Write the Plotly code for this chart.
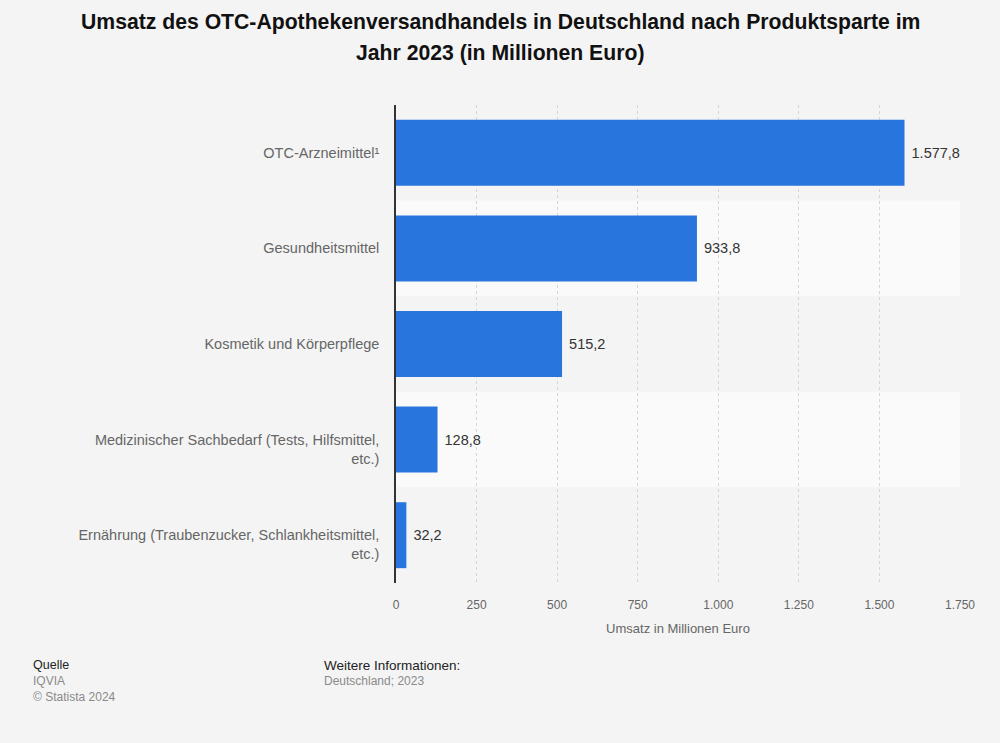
import plotly.graph_objects as go

categories = [
    "OTC-Arzneimittel¹",
    "Gesundheitsmittel",
    "Kosmetik und Körperpflege",
    "Medizinischer Sachbedarf (Tests, Hilfsmittel,<br>etc.)",
    "Ernährung (Traubenzucker, Schlankheitsmittel,<br>etc.)",
]
values = [1577.8, 933.8, 515.2, 128.8, 32.2]
value_labels = ["1.577,8", "933,8", "515,2", "128,8", "32,2"]
tick_vals = [0, 250, 500, 750, 1000, 1250, 1500, 1750]
tick_text = ["0", "250", "500", "750", "1.000", "1.250", "1.500", "1.750"]

FONT = "Liberation Sans, Arial, Helvetica, sans-serif"
W, H = 1000, 743
ML, MR, MT, MB = 396, 40, 105, 160
PW, PH = W - ML - MR, H - MT - MB


def px_x(x):
    return (x - ML) / PW


def px_y(y):
    return (H - MB - y) / PH


# multi-line labels: first line sits at the bar centre (leading blank line)
y_ticktext = [("&nbsp;<br>" + c) if "<br>" in c else c for c in categories]

fig = go.Figure()
fig.add_trace(go.Bar(
    x=values, y=categories, orientation="h",
    marker=dict(color="#2876dd", line=dict(width=0)),
    text=[" " + v for v in value_labels], textposition="outside",
    textfont=dict(color="#333333", size=14.5, family=FONT),
    cliponaxis=False, width=0.69, hoverinfo="skip",
))

shapes = []
for i in range(len(categories)):
    color = "#f4f4f4" if i % 2 == 0 else "#fafafa"
    shapes.append(dict(type="rect", xref="paper", yref="y",
                       x0=0, x1=1, y0=i - 0.5, y1=i + 0.5,
                       fillcolor=color, line=dict(width=0), layer="below"))

fig.update_layout(
    width=W, height=H,
    paper_bgcolor="#f4f4f4", plot_bgcolor="#f4f4f4",
    margin=dict(l=ML, r=MR, t=MT, b=MB),
    font=dict(family=FONT, color="#666666", size=13),
    showlegend=False,
    shapes=shapes,
    xaxis=dict(
        range=[0, 1750], tickvals=tick_vals, ticktext=tick_text,
        showgrid=True, gridcolor="#d6d6d6", griddash="dot", gridwidth=1,
        zeroline=False, showline=False,
        tickfont=dict(size=12, color="#666666"),
        title=dict(text="Umsatz in Millionen Euro", font=dict(size=13, color="#666666"), standoff=12),
        ticks="", ticklabelstandoff=13,
    ),
    yaxis=dict(
        autorange="reversed", showgrid=False, zeroline=False,
        showline=True, linecolor="#333333", linewidth=1.5,
        tickmode="array", tickvals=categories, ticktext=y_ticktext,
        tickfont=dict(size=14.5, color="#666666"),
        ticks="", ticklabelstandoff=12,
    ),
    bargap=0.31,
)

for txt, yy in [("Umsatz des OTC-Apothekenversandhandels in Deutschland nach Produktsparte im", 22),
                ("Jahr 2023 (in Millionen Euro)", 53)]:
    fig.add_annotation(text="<b>" + txt + "</b>", xref="paper", yref="paper",
                       x=px_x(500), y=px_y(yy), xanchor="center", yanchor="middle",
                       showarrow=False, font=dict(size=21.2, color="#111111", family=FONT))

fig.add_annotation(text="Quelle", xref="paper", yref="paper", x=px_x(31), y=px_y(665),
                   xanchor="left", yanchor="middle", showarrow=False,
                   font=dict(size=12.5, color="#222222", family=FONT))
fig.add_annotation(text="Weitere Informationen:", xref="paper", yref="paper", x=px_x(322), y=px_y(665),
                   xanchor="left", yanchor="middle", showarrow=False,
                   font=dict(size=13.5, color="#222222", family=FONT))
for txt, xx, yy in [("IQVIA", 31, 681), ("© Statista 2024", 31, 697), ("Deutschland; 2023", 322, 681)]:
    fig.add_annotation(text=txt, xref="paper", yref="paper", x=px_x(xx), y=px_y(yy),
                       xanchor="left", yanchor="middle", showarrow=False,
                       font=dict(size=12, color="#8a8a8a", family=FONT))

fig.write_html("out.html", config={"displayModeBar": False},
               post_script="document.body.style.margin='0';")
